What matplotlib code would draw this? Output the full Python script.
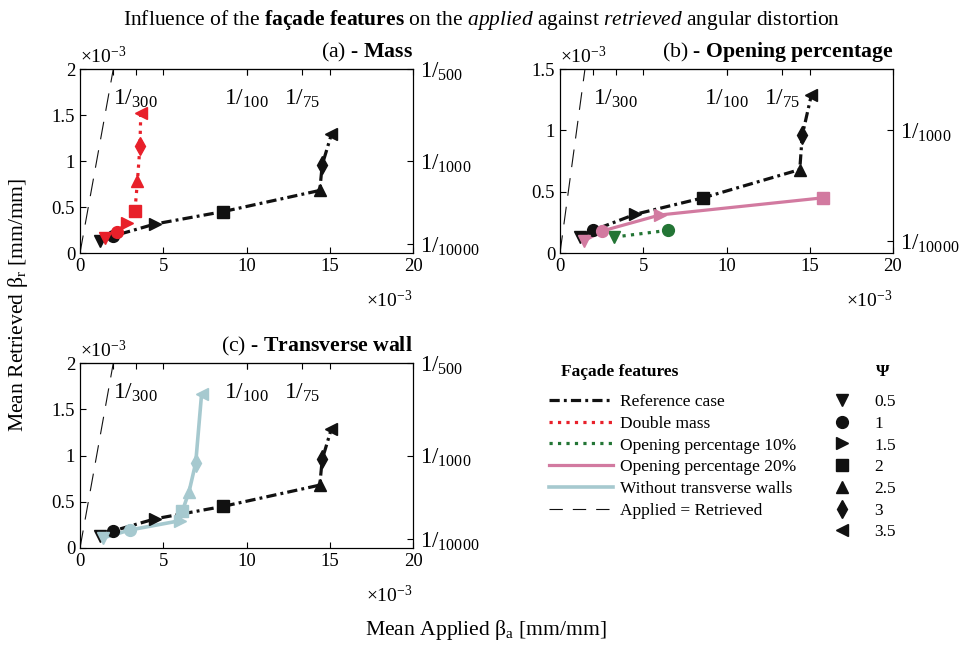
import matplotlib
matplotlib.use('Agg')
import matplotlib.pyplot as plt
from matplotlib.lines import Line2D

plt.rcParams['font.family'] = ['Liberation Serif', 'DejaVu Serif']
plt.rcParams['mathtext.fontset'] = 'custom'
plt.rcParams['mathtext.rm'] = 'Liberation Serif'
plt.rcParams['mathtext.it'] = 'Liberation Serif:italic'
plt.rcParams['mathtext.bf'] = 'Liberation Serif:bold'

# values in units of 1e-3 mm/mm
psi = [0.5, 1, 1.5, 2, 2.5, 3, 3.5]
psi_markers = ['v', 'o', '>', 's', '^', 'd', '<']

ref_x = [1.2, 2.0, 4.5, 8.6, 14.4, 14.55, 15.1]
ref_y = [0.13, 0.185, 0.315, 0.45, 0.68, 0.96, 1.29]

mass_x = [1.5, 2.2, 2.8, 3.3, 3.45, 3.6, 3.65]
mass_y = [0.16, 0.225, 0.33, 0.46, 0.78, 1.16, 1.52]

open10_x = [3.25, 6.5]
open10_y = [0.13, 0.185]

open20_x = [1.45, 2.55, 6.0, 15.8]
open20_y = [0.10, 0.18, 0.31, 0.45]

trans_x = [1.4, 3.0, 6.0, 6.15, 6.55, 6.95, 7.3]
trans_y = [0.11, 0.195, 0.295, 0.40, 0.61, 0.92, 1.66]

drift_vals = [300, 100, 75]
top_tick_vals = [500, 300, 100, 75]
right_vals = [500, 1000, 10000]

styles = {
    'ref': dict(color='#111111', lw=2.3, dashes=(3.2, 1.3, 0.9, 1.3)),
    'mass': dict(color='#e8202a', lw=2.3, linestyle=':'),
    'open10': dict(color='#237535', lw=2.3, linestyle=':'),
    'open20': dict(color='#d27aa0', lw=2.3, linestyle='-'),
    'trans': dict(color='#a6c9cf', lw=2.6, linestyle='-'),
    'diag': dict(color='#111111', lw=0.8, dashes=(16, 10)),
}


def marker_size(m):
    return 9 if m == 'd' else 8.5


def plot_series(ax, xs, ys, style):
    st = dict(styles[style])
    ax.plot(xs, ys, **st, zorder=3)
    for x, y, m in zip(xs, ys, psi_markers):
        ax.plot(x, y, marker=m, ms=marker_size(m), color=st['color'], linestyle='none', zorder=4)


def setup_axes(ax, ymax, title_a, title_b):
    ax.set_xlim(0, 20)
    ax.set_ylim(0, ymax)
    ax.set_xticks([0, 5, 10, 15, 20])
    ax.set_yticks([v * 0.5 for v in range(int(ymax / 0.5) + 1)])
    ax.yaxis.set_major_formatter(plt.FormatStrFormatter('%g'))
    ax.tick_params(direction='in', labelsize=13.5, top=True, right=True, length=4, width=0.8)
    ax.plot([0, ymax], [0, ymax], **styles['diag'], zorder=2)
    for d in drift_vals:
        ax.text(1000.0 / d, 0.84, r'$1/_{%d}$' % d, transform=ax.get_xaxis_transform(),
                ha='center', va='center', fontsize=17)
    axt = ax.secondary_xaxis('top')
    axt.set_xticks([1000.0 / d for d in top_tick_vals])
    axt.tick_params(direction='in', length=4, width=0.8, labeltop=False)
    ax.text(0.0, 1.01, r'$\times10^{-3}$', transform=ax.transAxes, ha='left', va='bottom', fontsize=14)
    ax.text(1.0, -0.2, r'$\times10^{-3}$', transform=ax.transAxes, ha='right', va='top', fontsize=14)
    ax.text(1.0, 1.025, title_a + r' - $\mathbf{' + title_b.replace(' ', r'\ ') + '}$',
            transform=ax.transAxes, ha='right', va='bottom', fontsize=15.7)
    axr = ax.twinx()
    axr.set_ylim(0, ymax)
    rt = [1000.0 / r for r in right_vals if 1000.0 / r <= ymax]
    axr.set_yticks(rt)
    axr.set_yticklabels([r'$1/_{%d}$' % r for r in right_vals if 1000.0 / r <= ymax])
    axr.tick_params(direction='in', labelsize=16.5, length=4, width=0.8, pad=5)
    for sp in ax.spines.values():
        sp.set_linewidth(0.8)


fig = plt.figure(figsize=(9.63, 6.45), dpi=100)

ax_a = fig.add_axes([80 / 963, 1 - 253 / 645, 333 / 963, 184 / 645])
ax_b = fig.add_axes([560 / 963, 1 - 253 / 645, 333 / 963, 184 / 645])
ax_c = fig.add_axes([80 / 963, 1 - 548 / 645, 333 / 963, 185 / 645])

setup_axes(ax_a, 2, '(a)', 'Mass')
plot_series(ax_a, ref_x, ref_y, 'ref')
plot_series(ax_a, mass_x, mass_y, 'mass')

setup_axes(ax_b, 1.5, '(b)', 'Opening percentage')
plot_series(ax_b, ref_x, ref_y, 'ref')
plot_series(ax_b, open10_x, open10_y, 'open10')
plot_series(ax_b, open20_x, open20_y, 'open20')

setup_axes(ax_c, 2, '(c)', 'Transverse wall')
plot_series(ax_c, ref_x, ref_y, 'ref')
plot_series(ax_c, trans_x, trans_y, 'trans')

fig.text(0.5, 1 - 20 / 645,
         r'Influence of the $\mathbf{façade\ features}$ on the $\mathit{applied}$ against $\mathit{retrieved}$ angular distortion',
         ha='center', va='center', fontsize=15.5)
fig.text(18 / 963, 1 - 305 / 645, r'Mean Retrieved β$_\mathrm{r}$ [mm/mm]', rotation=90,
         ha='center', va='center', fontsize=15.6)
fig.text(486 / 963, 1 - 630 / 645, r'Mean Applied β$_\mathrm{a}$ [mm/mm]',
         ha='center', va='center', fontsize=15.6)

# legends
line_labels = ['Reference case', 'Double mass', 'Opening percentage 10%',
               'Opening percentage 20%', 'Without transverse walls', 'Applied = Retrieved']
line_keys = ['ref', 'mass', 'open10', 'open20', 'trans', 'diag']
line_handles = []
for k in line_keys:
    st = dict(styles[k])
    if k == 'diag':
        st['dashes'] = (12, 9)
    line_handles.append(Line2D([], [], **st))
fig.text(620 / 963, 1 - 372 / 645, 'Façade features', ha='center', va='center',
         fontsize=12.5, fontweight='bold')
fig.legend(line_handles, line_labels, loc='upper left', bbox_to_anchor=(549 / 963, 1 - 394 / 645),
           frameon=False, borderpad=0, borderaxespad=0, handlelength=3.7, handletextpad=0.4,
           labelspacing=0.32, fontsize=12.5)

mark_handles = [Line2D([], [], marker=m, ms=marker_size(m), color='#111111', linestyle='none')
                for m in psi_markers]
fig.text(883 / 963, 1 - 372 / 645, 'Ψ', ha='center', va='center', fontsize=12.5, fontweight='bold')
fig.legend(mark_handles, ['%g' % p for p in psi], loc='upper left',
           bbox_to_anchor=(833 / 963, 1 - 394 / 645), frameon=False, borderpad=0, borderaxespad=0,
           handlelength=1.0, handletextpad=1.4, labelspacing=0.32, fontsize=12.5)

fig.savefig('out.png', dpi=100)
